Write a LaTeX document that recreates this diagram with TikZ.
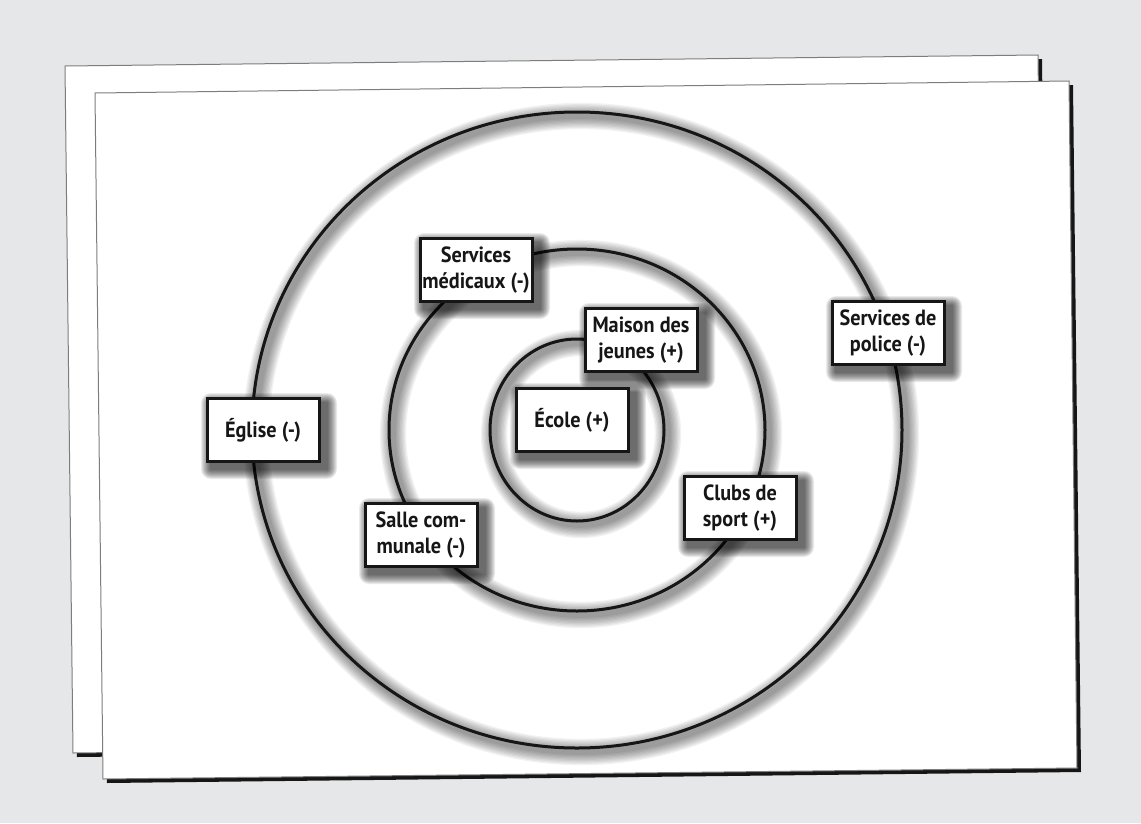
\documentclass[tikz,border=0pt]{standalone}
\usepackage{fontspec}
\setmainfont{PT Sans}[FakeStretch=0.92]
\usetikzlibrary{calc}
\definecolor{bggray}{RGB}{230,231,232}
\definecolor{edgegray}{RGB}{125,125,125}
\definecolor{inkblack}{RGB}{22,22,22}
\tikzset{
  tag/.style={draw=inkblack, line width=3pt, fill=white, minimum width=112pt, minimum height=63pt,
    inner sep=2pt, align=center, text=inkblack, font=\fontsize{22}{26}\selectfont\bfseries},
  ring/.style={draw=inkblack, line width=3pt},
  sheet/.style={fill=white, draw=edgegray, line width=1pt},
}
% blurred shadow first, then the box on top
\newcommand{\labelbox}[3]{%
  \foreach \b in {1,...,10}
    \fill[black, opacity=0.08, rounded corners=\b pt]
      ($(#2)+(6,6)+(-58-\b,-33-\b)$) rectangle ($(#2)+(6,6)+(58+\b,33+\b)$);
  \node[tag] (#1) at (#2) {#3};
}

\begin{document}
\begin{tikzpicture}[x=1pt,y=-1pt]
  \fill[bggray] (0,0) rectangle (1141,823);
  \useasboundingbox (0,0) rectangle (1141,823);

  % back sheet
  \fill[inkblack] (69,70) -- (1042,59) -- (1050,746) -- (77,757) -- cycle;
  \draw[sheet] (65,66) -- (1038,55) -- (1046,742) -- (73,753) -- cycle;

  % front sheet
  \fill[inkblack] (99,97) -- (1073,85) -- (1081,772) -- (107,783) -- cycle;
  \draw[sheet] (95,93) -- (1069,81) -- (1077,768) -- (103,779) -- cycle;

  % rings with soft shadow
  \foreach \rx/\ry in {325/318, 188/181, 87/91} {
    \foreach \w in {1,...,9} {
      \pgfmathsetmacro\lw{3+2.6*\w}
      \draw[black, opacity=0.05, line width=\lw pt] (581,434) ellipse [x radius=\rx, y radius=\ry];
    }
  }
  \foreach \rx/\ry in {325/318, 188/181, 87/91}
    \draw[ring] (577,430) ellipse [x radius=\rx, y radius=\ry];

  % labels
  \labelbox{medical}{476,270}{Services\\médicaux (-)}
  \labelbox{youth}{641,340}{Maison des\\jeunes (+)}
  \labelbox{school}{572,420}{École (+)}
  \labelbox{church}{263,430}{Église (-)}
  \labelbox{hall}{421,535}{Salle com-\\munale (-)}
  \labelbox{sports}{740,508}{Clubs de\\sport (+)}
  \labelbox{police}{888,333}{Services de\\police (-)}
\end{tikzpicture}
\end{document}
